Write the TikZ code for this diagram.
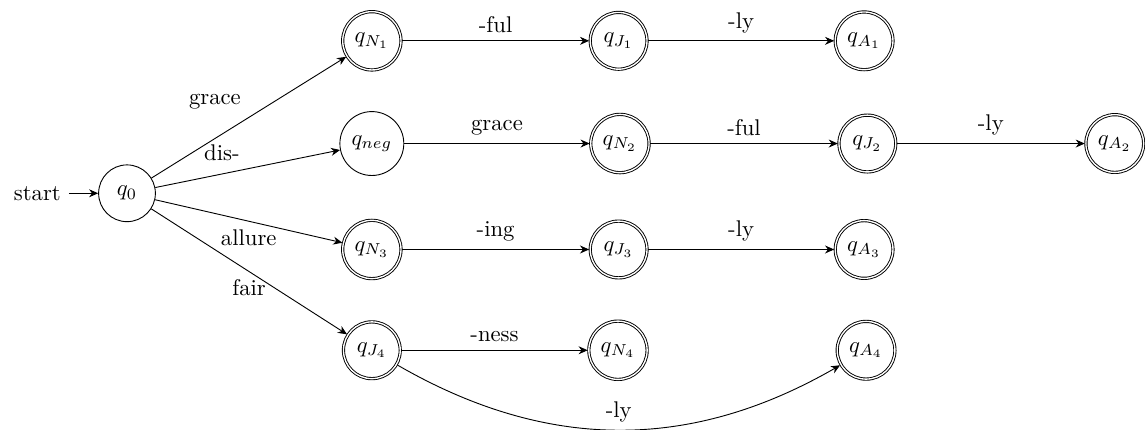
\documentclass[tikz,border=0pt]{standalone}
\usepackage{amsmath,amssymb}
\usepackage{tikz}
\usetikzlibrary{arrows.meta,automata,positioning}

\begin{document}
\begin{tikzpicture}[>={Stealth[length=4pt,width=3.5pt]}, every edge/.style={draw,->}]
            \useasboundingbox (-1.966,-3.664) rectangle (15.758,2.992);

            % States
            \node[state] (q0) at (0,0) {$q_0$};
            \node (start) [left=3ex of q0] {start};

            \node[state,accepting] (qN1) at (3.79,2.36) {$q_{N_1}$};
            \node[state,accepting] (qJ1) at (7.61,2.36) {$q_{J_1}$};
            \node[state,accepting] (qA1) at (11.41,2.36) {$q_{A_1}$};

            \node[state] (qneg) at (3.79,0.77) {$q_{neg}$};
            \node[state,accepting] (qN2) at (7.63,0.77) {$q_{N_2}$};
            \node[state,accepting] (qJ2) at (11.46,0.77) {$q_{J_2}$};
            \node[state,accepting] (qA2) at (15.29,0.77) {$q_{A_2}$};

            \node[state,accepting] (qN3) at (3.79,-0.87) {$q_{N_3}$};
            \node[state,accepting] (qJ3) at (7.61,-0.87) {$q_{J_3}$};
            \node[state,accepting] (qA3) at (11.41,-0.87) {$q_{A_3}$};

            \node[state,accepting] (qJ4) at (3.79,-2.43) {$q_{J_4}$};
            \node[state,accepting] (qN4) at (7.60,-2.43) {$q_{N_4}$};
            \node[state,accepting] (qA4) at (11.44,-2.43) {$q_{A_4}$};

            % Start
            \draw[->] (start) -- (q0);

            % Prefixes and stems
            \draw (q0) edge node[above left] {grace} (qN1);
            \draw (q0) edge node[above left] {dis-} (qneg);
            \draw (q0) edge node[below] {allure} (qN3);
            \draw (q0) edge node[below] {fair} (qJ4);

            % Suffixes
            \draw (qN1) edge node[above] {-ful} (qJ1);
            \draw (qJ1) edge node[above] {-ly} (qA1);
            \draw (qneg) edge node[above] {grace} (qN2);
            \draw (qN2) edge node[above] {-ful} (qJ2);
            \draw (qJ2) edge node[above] {-ly} (qA2);
            \draw (qN3) edge node[above] {-ing} (qJ3);
            \draw (qJ3) edge node[above] {-ly} (qA3);
            \draw (qJ4) edge node[above] {-ness} (qN4);
            \draw (qJ4) edge[bend right] node[above] {-ly} (qA4);
        \end{tikzpicture}
\end{document}
